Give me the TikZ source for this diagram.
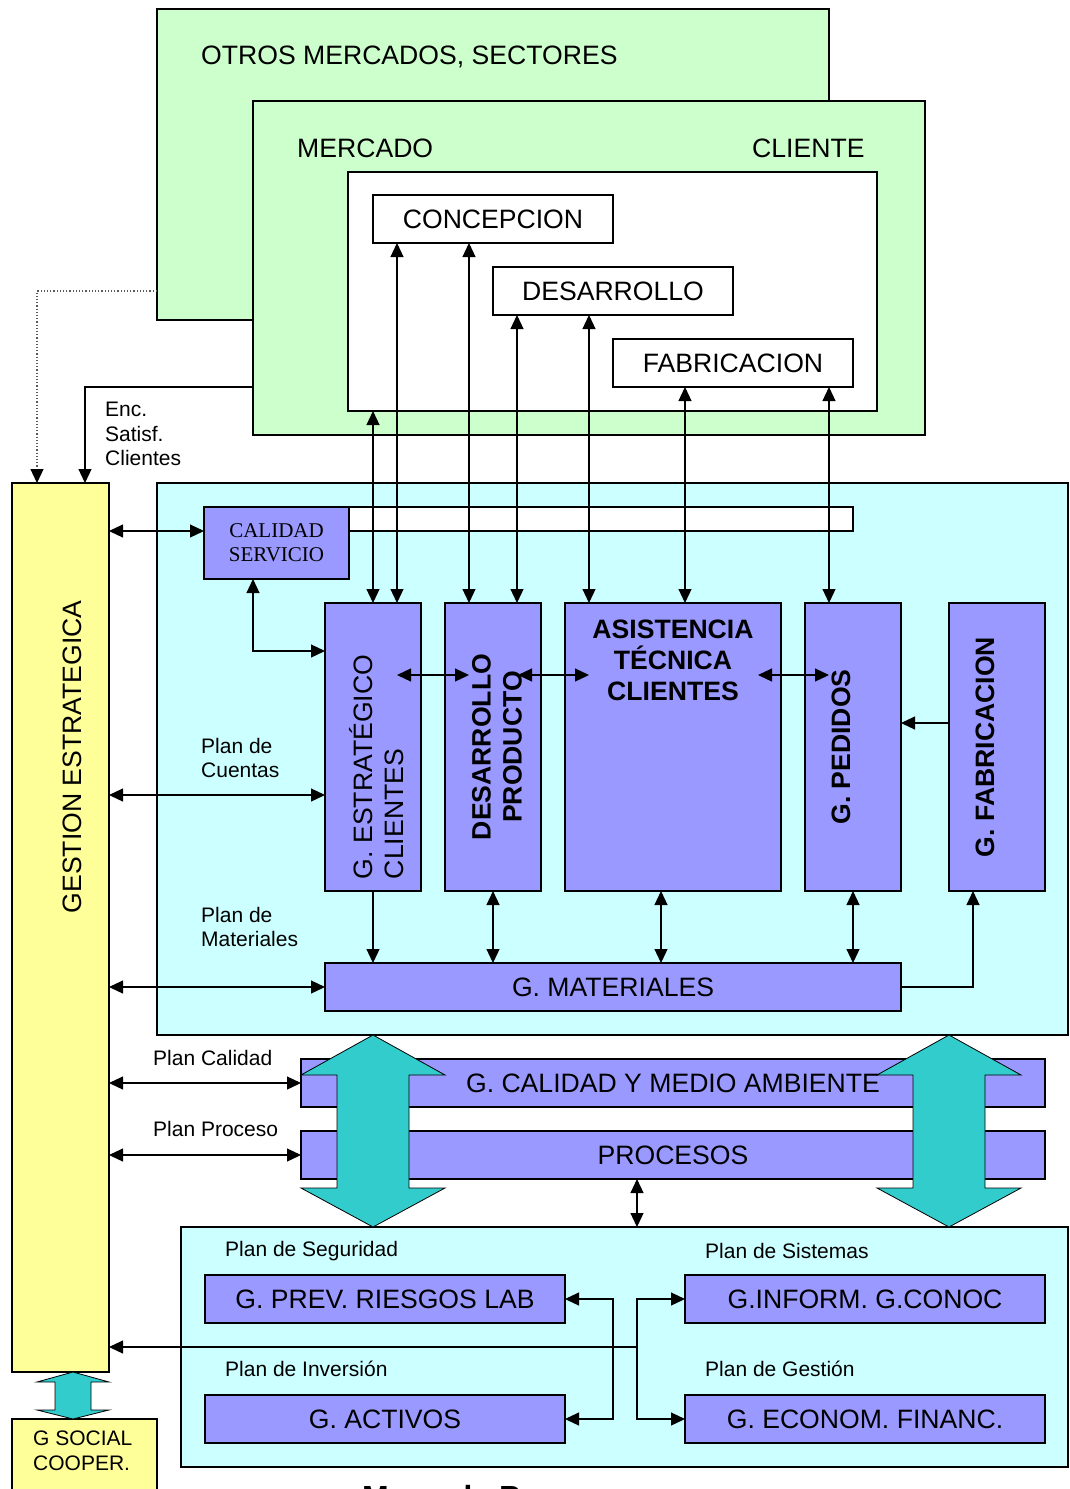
\documentclass[tikz,border=0pt]{standalone}
\usepackage{fontspec}
\setmainfont{Liberation Sans}
\newfontfamily\timesfam{Liberation Serif}
\usetikzlibrary{arrows.meta,calc}

\definecolor{mintgreen}{HTML}{CCFFCC}
\definecolor{paleaqua}{HTML}{CCFFFF}
\definecolor{lavender}{HTML}{9999FF}
\definecolor{paleyellow}{HTML}{FFFF99}
\definecolor{tealc}{HTML}{33CCCC}

\begin{document}
\begin{tikzpicture}[x=1pt,y=-1pt,
  box/.style={draw=black, line width=1.4pt, inner sep=0pt, outer sep=0pt},
  greenbox/.style={box, fill=mintgreen},
  whitebox/.style={box, fill=white},
  aquabox/.style={box, fill=paleaqua},
  purplebox/.style={box, fill=lavender},
  yellowbox/.style={box, fill=paleyellow},
  bigtxt/.style={font=\fontsize{26.6}{31}\selectfont},
  bigbold/.style={font=\fontsize{26.6}{31}\selectfont\bfseries},
  smalltxt/.style={font=\fontsize{21}{24.5}\selectfont},
  lbl/.style={smalltxt, inner sep=0pt, anchor=west, align=left},
  tip/.tip={Triangle[length=14pt,width=13pt]},
  arr/.style={line width=1.2pt, -tip},
  dbl/.style={line width=1.2pt, tip-tip},
  dotline/.style={line width=1.2pt, gray!70!black, dotted, -{Triangle[length=14pt,width=13pt,fill=black,color=black]}},
  fatarrow/.style={fill=tealc, draw=black, line width=0.8pt, line join=miter}
]
\useasboundingbox (0,0) rectangle (1069,1489);

% ---------- market side ----------
\node[greenbox, minimum width=672pt, minimum height=311pt] (otros) at (493,164.5) {};
\node[bigtxt, anchor=west, inner sep=0pt] (totros) at (201,57) {OTROS MERCADOS, SECTORES};
\node[greenbox, minimum width=672pt, minimum height=334pt] (mercado) at (589,268) {};
\node[bigtxt, anchor=west, inner sep=0pt] (tmercado) at (297,148) {MERCADO};
\node[bigtxt, anchor=west, inner sep=0pt] (tcliente) at (752,148) {CLIENTE};
\node[whitebox, minimum width=529pt, minimum height=239pt] (inner) at (612.5,291.5) {};
\node[whitebox, bigtxt, minimum width=240pt, minimum height=48pt] (concep) at (493,219) {CONCEPCION};
\node[whitebox, bigtxt, minimum width=240pt, minimum height=48pt] (desa) at (613,291) {DESARROLLO};
\node[whitebox, bigtxt, minimum width=240pt, minimum height=48pt] (fabr) at (733,363) {FABRICACION};

% ---------- strategic column ----------
\node[yellowbox, minimum width=97pt, minimum height=889pt] (gest) at (60.5,927.5) {};
\node[bigtxt, rotate=90, inner sep=0pt] (tgest) at (72,757) {GESTION ESTRATEGICA};

% ---------- customer processes ----------
\node[aquabox, minimum width=911pt, minimum height=552pt] (cyanbig) at (612.5,759) {};
\node[whitebox, minimum width=504pt, minimum height=24pt] (strip) at (601,519) {};
\node[purplebox, minimum width=145pt, minimum height=72pt, align=center,
      font=\timesfam\fontsize{21}{24}\selectfont] (calserv) at (276.5,543) {CALIDAD\\SERVICIO};

\node[purplebox, minimum width=96pt, minimum height=288pt] (gec) at (373,747) {};
\node[bigtxt, rotate=90, align=left, inner sep=0pt] (tgec) at (377,767) {G. ESTRATÉGICO\\CLIENTES};
\node[purplebox, minimum width=96pt, minimum height=288pt] (dpr) at (493,747) {};
\node[bigbold, rotate=90, align=center, inner sep=0pt] (tdpr) at (497,747) {DESARROLLO\\PRODUCTO};
\node[purplebox, minimum width=216pt, minimum height=288pt] (atc) at (673,747) {};
\node[bigbold, align=center, inner sep=0pt] (tatc) at (673,660) {ASISTENCIA\\TÉCNICA\\CLIENTES};
\node[purplebox, minimum width=96pt, minimum height=288pt] (gped) at (853,747) {};
\node[bigbold, rotate=90, inner sep=0pt] (tgped) at (841,747) {G. PEDIDOS};
\node[purplebox, minimum width=96pt, minimum height=288pt] (gfab) at (997,747) {};
\node[bigbold, rotate=90, inner sep=0pt] (tgfab) at (985,747) {G. FABRICACION};
\node[purplebox, bigtxt, minimum width=576pt, minimum height=48pt] (gmat) at (613,987) {G. MATERIALES};

% ---------- quality and processes ----------
\node[purplebox, minimum width=744pt, minimum height=48pt] (gcal) at (673,1083) {};
\node[purplebox, minimum width=744pt, minimum height=48pt] (proc) at (673,1155) {};

% ---------- support processes ----------
\node[aquabox, minimum width=887pt, minimum height=240pt] (cyanlow) at (624.5,1347) {};
\node[purplebox, bigtxt, minimum width=360pt, minimum height=48pt] (prev) at (385,1299) {G. PREV. RIESGOS LAB};
\node[purplebox, bigtxt, minimum width=360pt, minimum height=48pt] (act) at (385,1419) {G. ACTIVOS};
\node[purplebox, bigtxt, minimum width=360pt, minimum height=48pt] (inf) at (865,1299) {G.INFORM. G.CONOC};
\node[purplebox, bigtxt, minimum width=360pt, minimum height=48pt] (eco) at (865,1419) {G. ECONOM. FINANC.};

\node[yellowbox, minimum width=145pt, minimum height=90pt, anchor=north west] (gsoc) at (12,1419) {};
\node[lbl, anchor=north west] (tgsoc) at (33,1431) {G SOCIAL\\COOPER.};

% ---------- plan labels ----------
\node[lbl] (lenc) at (105,434) {Enc.\\Satisf.\\Clientes};
\node[lbl] (lcue) at (201,758) {Plan de\\Cuentas};
\node[lbl] (lmat) at (201,927) {Plan de\\Materiales};
\node[lbl] (lcal) at (153,1058) {Plan Calidad};
\node[lbl] (lpro) at (153,1129) {Plan Proceso};
\node[lbl] (lseg) at (225,1251) {Plan de Seguridad};
\node[lbl] (linv) at (225,1369) {Plan de Inversión};
\node[lbl] (lsis) at (705,1251) {Plan de Sistemas};
\node[lbl] (lges) at (705,1369) {Plan de Gestión};

% page title, running past the lower edge
\node[anchor=base west, inner sep=0pt, font=\fontsize{32}{36}\selectfont\bfseries] (mapa) at (362,1508) {Mapa de Procesos};

% ---------- connectors: market to processes ----------
\draw[dbl] ([xshift=-239.5pt]inner.south) -- (gec.north);
\draw[dbl] ([xshift=-96pt]concep.south) -- ([xshift=24pt]gec.north);
\draw[dbl] ([xshift=-24pt]concep.south) -- ([xshift=-24pt]dpr.north);
\draw[dbl] ([xshift=-96pt]desa.south) -- ([xshift=24pt]dpr.north);
\draw[dbl] ([xshift=-24pt]desa.south) -- ([xshift=-84pt]atc.north);
\draw[dbl] ([xshift=-48pt]fabr.south) -- ([xshift=12pt]atc.north);
\draw[dbl] ([xshift=96pt]fabr.south) -- ([xshift=-24pt]gped.north);

% ---------- connectors: strategic column ----------
\coordinate (d1) at (37,291);
\draw[dotline] (d1 -| otros.west) -- (d1) -- (d1 |- gest.north);
\coordinate (d2) at (85,387);
\draw[arr] (d2 -| mercado.west) -- (d2) -- (d2 |- gest.north);
\coordinate (r1) at (0,531);
\draw[dbl] (gest.east |- r1) -- (calserv.west |- r1);
\coordinate (d3) at (253,651);
\draw[dbl] (calserv.south -| d3) -- (d3) -- (d3 -| gec.west);
\coordinate (r2) at (0,795);
\draw[dbl] (gest.east |- r2) -- (gec.west |- r2);
\draw[dbl] (gest.east |- gmat.west) -- (gmat.west);
\draw[dbl] (gest.east |- gcal.west) -- (gcal.west);
\draw[dbl] (gest.east |- proc.west) -- (proc.west);

% ---------- connectors: between customer processes ----------
\coordinate (h1) at (397,675); \coordinate (h2) at (469,675);
\coordinate (h3) at (518,675); \coordinate (h4) at (589,675);
\coordinate (h5) at (758,675); \coordinate (h6) at (829,675);
\draw[dbl] (h1) -- (h2);
\draw[dbl] (h3) -- (h4);
\draw[dbl] (h5) -- (h6);
\draw[arr] (gec.south) -- (gec.south |- gmat.north);
\draw[dbl] (dpr.south) -- (dpr.south |- gmat.north);
\draw[dbl] ([xshift=-12pt]atc.south) -- ([xshift=-12pt]atc.south |- gmat.north);
\draw[dbl] (gped.south) -- (gped.south |- gmat.north);
\coordinate (d4) at (973,987);
\draw[arr] (gmat.east) -- (d4) -- (d4 |- gfab.south);
\coordinate (r3) at (0,723);
\draw[arr] (gfab.west |- r3) -- (gped.east |- r3);

% ---------- big two-way arrows ----------
\draw[fatarrow] (373,1035) -- (445,1075) -- (409,1075) -- (409,1188) -- (445,1188) -- (373,1227)
  -- (301,1188) -- (337,1188) -- (337,1075) -- (301,1075) -- cycle;
\draw[fatarrow] (949,1035) -- (1021,1075) -- (985,1075) -- (985,1188) -- (1021,1188) -- (949,1227)
  -- (877,1188) -- (913,1188) -- (913,1075) -- (877,1075) -- cycle;
\draw[fatarrow] (73,1372) -- (109,1382) -- (91,1382) -- (91,1410) -- (109,1410) -- (73,1419)
  -- (37,1410) -- (55,1410) -- (55,1382) -- (37,1382) -- cycle;
\node[bigtxt, inner sep=0pt] (tgcal) at (gcal.center) {G. CALIDAD Y MEDIO AMBIENTE};
\node[bigtxt, inner sep=0pt] (tproc) at (proc.center) {PROCESOS};

% ---------- connectors: support processes ----------
\draw[dbl] ([xshift=-36pt]proc.south) -- ([xshift=-36pt]proc.south |- cyanlow.north);
\coordinate (j1) at (637,1347);
\draw[arr] (j1) -- (j1 -| gest.east);
\draw[arr] (j1) |- (inf.west);
\draw[arr] (j1) |- (eco.west);
\coordinate (j2) at (613,1347);
\draw[arr] (j2) |- (prev.east);
\draw[arr] (j2) |- (act.east);
\end{tikzpicture}
\end{document}
